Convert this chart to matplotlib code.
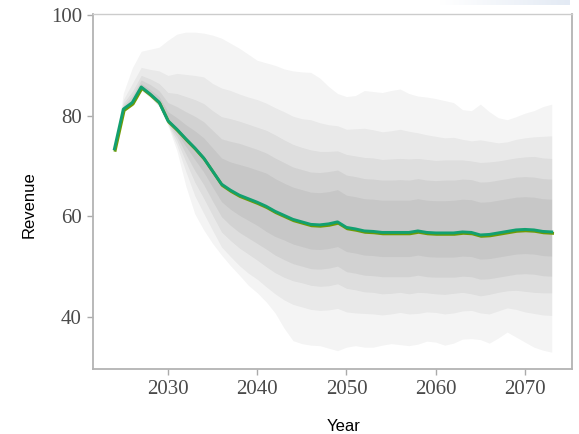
import numpy as np
import matplotlib
matplotlib.use("Agg")
import matplotlib.pyplot as plt
import matplotlib.patheffects as pe

# Simulation years
years = list(range(2024, 2074))

# Central (median) revenue path
median = [73.4, 81.3, 82.6, 85.7, 84.3, 82.7, 79.0, 77.3, 75.4, 73.6,
          71.6, 69.0, 66.4, 65.2, 64.2, 63.5, 62.8, 62.0, 61.0, 60.2,
          59.4, 58.9, 58.4, 58.3, 58.5, 58.9, 57.8, 57.5, 57.1, 57.0,
          56.8, 56.8, 56.8, 56.8, 57.1, 56.8, 56.7, 56.7, 56.7, 56.9,
          56.8, 56.3, 56.4, 56.7, 57.0, 57.3, 57.4, 57.3, 57.0, 56.9]

# Quantile envelopes, outermost (q1) to innermost (q5)
upper_q1 = [73.4, 84.5, 89.5, 92.8, 93.2, 93.6, 95.0, 96.2, 96.6, 96.6,
            96.4, 96.0, 95.4, 94.4, 93.4, 92.2, 91.0, 90.5, 90.0, 89.3,
            88.9, 88.7, 88.6, 87.5, 85.8, 84.4, 83.8, 84.0, 85.0, 84.8,
            84.6, 85.0, 85.3, 84.4, 83.9, 83.7, 83.4, 83.0, 82.6, 81.2,
            81.0, 82.3, 80.8, 79.6, 79.2, 79.8, 80.5, 81.0, 81.8, 82.3]
upper_q2 = [73.4, 83.2, 86.4, 89.6, 89.2, 88.9, 88.0, 88.4, 88.2, 88.0,
            87.7, 86.4, 85.5, 85.0, 84.3, 83.7, 83.2, 82.5, 81.6, 80.8,
            79.9, 79.4, 79.2, 78.6, 78.2, 78.0, 77.3, 77.4, 77.5, 77.2,
            76.8, 77.0, 77.3, 76.9, 76.6, 76.2, 75.9, 75.6, 75.7, 75.3,
            75.0, 75.2, 74.9, 74.6, 74.8, 75.3, 75.6, 75.8, 75.9, 76.0]
upper_q3 = [73.4, 82.5, 84.8, 88.0, 87.3, 86.4, 84.6, 84.4, 83.8, 83.2,
            82.4, 81.0, 79.8, 79.4, 78.9, 78.3, 77.7, 77.1, 76.2, 75.2,
            74.3, 73.7, 73.2, 72.9, 72.9, 73.0, 72.3, 72.0, 71.7, 71.6,
            71.3, 71.4, 71.5, 71.4, 71.5, 71.3, 71.1, 71.2, 71.2, 71.2,
            71.0, 70.7, 70.8, 71.0, 71.3, 71.6, 71.8, 71.9, 71.6, 71.5]
upper_q4 = [73.4, 82.0, 84.0, 87.1, 86.2, 85.0, 82.6, 81.8, 80.8, 79.9,
            78.8, 77.1, 75.4, 74.9, 74.5, 73.9, 73.3, 72.6, 71.6, 70.7,
            69.8, 69.3, 68.8, 68.7, 68.9, 69.2, 68.2, 67.9, 67.5, 67.4,
            67.2, 67.2, 67.3, 67.2, 67.5, 67.2, 67.1, 67.2, 67.2, 67.4,
            67.3, 66.8, 66.9, 67.2, 67.5, 67.8, 67.9, 67.8, 67.5, 67.4]
upper_q5 = [73.4, 81.6, 83.2, 86.4, 85.2, 83.8, 80.8, 79.6, 78.2, 77.0,
            75.6, 73.6, 71.6, 70.8, 70.3, 69.8, 69.2, 68.6, 67.5, 66.6,
            65.8, 65.3, 64.8, 64.7, 64.9, 65.3, 64.2, 63.9, 63.5, 63.4,
            63.2, 63.2, 63.2, 63.2, 63.5, 63.2, 63.1, 63.1, 63.2, 63.4,
            63.3, 62.8, 62.9, 63.2, 63.5, 63.8, 63.9, 63.8, 63.5, 63.4]
lower_q5 = [73.4, 81.2, 82.5, 85.6, 84.2, 82.5, 78.8, 76.6, 73.9, 71.3,
            68.8, 65.8, 62.9, 61.4, 60.2, 59.2, 58.2, 57.0, 56.0, 55.3,
            54.5, 54.0, 53.5, 53.4, 53.6, 54.0, 53.0, 52.7, 52.3, 52.2,
            52.0, 52.0, 52.0, 52.0, 52.3, 52.0, 51.9, 51.9, 51.9, 52.1,
            52.0, 51.5, 51.6, 51.9, 52.2, 52.5, 52.6, 52.5, 52.2, 52.1]
lower_q4 = [73.4, 81.1, 82.3, 85.4, 84.0, 82.3, 78.6, 75.9, 72.4, 69.1,
            66.3, 63.0, 59.9, 58.2, 56.8, 55.7, 54.6, 53.5, 52.3, 51.4,
            50.6, 50.1, 49.6, 49.5, 49.7, 50.1, 49.0, 48.7, 48.3, 48.2,
            48.0, 48.0, 48.0, 48.0, 48.3, 48.0, 47.9, 47.9, 47.9, 48.1,
            48.0, 47.5, 47.6, 47.9, 48.2, 48.5, 48.6, 48.5, 48.2, 48.1]
lower_q3 = [73.4, 81.0, 82.1, 85.2, 83.8, 82.1, 78.4, 75.1, 70.9, 66.8,
            63.6, 60.2, 56.9, 55.2, 53.7, 52.5, 51.3, 50.0, 48.8, 47.9,
            47.2, 46.8, 46.3, 46.1, 46.2, 46.6, 45.7, 45.4, 45.0, 44.9,
            44.6, 44.7, 44.9, 44.6, 44.9, 44.8, 44.6, 44.5, 44.7, 44.9,
            44.6, 44.2, 44.5, 44.9, 45.2, 45.3, 45.1, 44.9, 44.8, 44.8]
lower_q2 = [73.4, 80.9, 82.0, 85.1, 83.7, 81.9, 78.2, 74.1, 68.9, 64.1,
            60.6, 57.2, 53.9, 52.0, 50.2, 48.7, 47.5, 46.0, 44.6, 43.4,
            42.5, 42.0, 41.5, 41.3, 41.4, 41.7, 41.0, 40.8, 40.7, 40.6,
            40.4, 40.6, 40.9, 40.6, 40.7, 41.0, 40.9, 40.6, 40.8, 41.2,
            41.3, 40.8, 40.6, 41.2, 41.8, 41.5, 41.0, 40.7, 40.4, 40.3]
lower_q1 = [73.4, 80.8, 81.9, 85.0, 83.6, 81.8, 78.0, 73.0, 66.0, 60.5,
            57.3, 54.6, 52.3, 50.2, 48.3, 46.3, 44.8, 43.0, 40.8, 37.8,
            35.3, 34.7, 34.4, 34.3, 33.8, 33.3, 34.0, 34.3, 34.0, 34.0,
            34.4, 34.7, 34.5, 34.3, 34.6, 35.2, 35.0, 34.4, 34.8, 35.6,
            35.7, 35.5, 34.8, 35.8, 37.0, 36.0, 35.0, 34.0, 33.4, 33.0]

x_ticks = [2030, 2040, 2050, 2060, 2070]
y_ticks = [40, 60, 80, 100]

fig = plt.figure(figsize=(5.79, 4.34), dpi=100)
ax = fig.add_axes([0.1606, 0.1498, 0.8273, 0.8180])

bands = [(lower_q1, upper_q1), (lower_q2, upper_q2), (lower_q3, upper_q3),
         (lower_q4, upper_q4), (lower_q5, upper_q5)]
band_alpha = [0.045, 0.045, 0.048, 0.05, 0.05]
for (lo, hi), a in zip(bands, band_alpha):
    ax.fill_between(years, lo, hi, color="black", alpha=a, linewidth=0)

ax.plot(years, median, color="#12a070", linewidth=2.1, solid_joinstyle="round",
        path_effects=[pe.SimpleLineShadow(offset=(0.6, -1.0),
                                          shadow_color="#6f9a05", alpha=1.0),
                      pe.Normal()])

ax.set_xlim(2021.6, 2075.27)
ax.set_ylim(29.67, 100.2)
ax.set_xticks(x_ticks)
ax.set_yticks(y_ticks)

tick_font = {"family": "Liberation Serif", "size": 15}
ax.set_xticklabels([str(t) for t in x_ticks], fontdict=tick_font, color="#4a4a4a")
ax.set_yticklabels([str(t) for t in y_ticks], fontdict=tick_font, color="#4a4a4a")
ax.tick_params(axis="both", direction="out", length=4, width=1, color="#aaaaaa",
               pad=4)

for side in ["left", "bottom", "right"]:
    ax.spines[side].set_color("#b3b3b3")
    ax.spines[side].set_linewidth(1.3)
ax.spines["top"].set_color("#cccccc")
ax.spines["top"].set_linewidth(1.0)

ax.set_xlabel("Year", family="Liberation Sans", fontsize=12, color="black")
ax.set_ylabel("Revenue", family="Liberation Sans", fontsize=12, color="black")
ax.xaxis.set_label_coords(0.523, -0.14)
ax.yaxis.set_label_coords(-0.118, 0.462)

# Faint header strip in the upper right corner
strip = fig.add_axes([440 / 579, 1 - 5 / 434, 130 / 579, 5 / 434])
grad = np.linspace(0, 1, 256).reshape(1, -1)
strip.imshow(grad, aspect="auto", cmap=matplotlib.colors.LinearSegmentedColormap.from_list(
    "strip", ["#ffffff", "#e3eaf4"]))
strip.axis("off")

fig.savefig("out.png", dpi=100)
